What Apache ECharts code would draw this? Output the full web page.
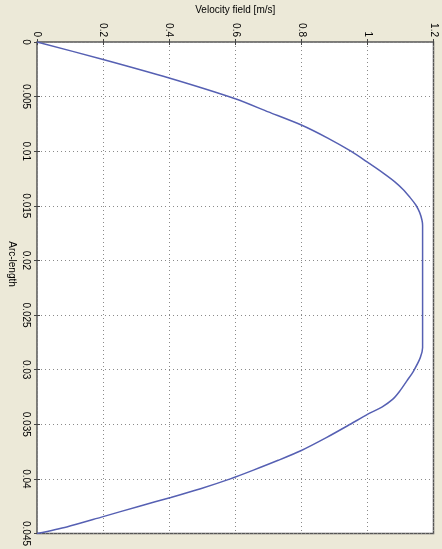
<!DOCTYPE html>
<html>
<head>
<meta charset="utf-8">
<script src="https://cdn.jsdelivr.net/npm/echarts@6/dist/echarts.min.js"></script>
<style>
html,body{margin:0;padding:0;background:#ECE9D8;}
#chart{width:442px;height:549px;}
</style>
</head>
<body>
<div id="chart"></div>
<script>
// Arc-length [m] (vertical axis) and velocity [m/s] (horizontal axis)
const arcLength = [0, 0.0016, 0.0033, 0.0052, 0.0064, 0.0076, 0.0088, 0.0100, 0.0110, 0.0120, 0.0128, 0.0135, 0.0142, 0.0149, 0.0156, 0.0163, 0.0168, 0.0280, 0.0289, 0.0301, 0.0310, 0.0320, 0.0327, 0.0334, 0.0341, 0.0350, 0.0362, 0.0374, 0.0383, 0.0392, 0.0400, 0.0409, 0.0417, 0.0425, 0.0435, 0.0444, 0.0450];
const velocity = [0, 0.2, 0.4, 0.6, 0.7, 0.8, 0.88, 0.95, 1.0, 1.048, 1.083, 1.108, 1.128, 1.146, 1.158, 1.165, 1.167, 1.167, 1.16, 1.14, 1.12, 1.097, 1.077, 1.045, 1.0, 0.948, 0.877, 0.8, 0.73, 0.655, 0.585, 0.495, 0.405, 0.31, 0.195, 0.09, 0];
const velocityTicks = [0, 0.2, 0.4, 0.6, 0.8, 1, 1.2];
const arcTicks = [0, 0.005, 0.01, 0.015, 0.02, 0.025, 0.03, 0.035, 0.04, 0.045];
const xTitle = 'Velocity field [m/s]';
const yTitle = 'Arc-length';

const FONT = 'Liberation Sans, Arial, sans-serif';
const fmt = v => String(parseFloat(Number(v).toFixed(4)));
const gridLine = {show: true, lineStyle: {color: '#8a8a8a', type: [1, 3], width: 1}};
const inTick = {show: true, inside: true, length: 3, lineStyle: {color: '#444'}};

const chart = echarts.init(document.getElementById('chart'), null, {renderer: 'canvas'});
chart.setOption({
  backgroundColor: '#ECE9D8',
  animation: false,
  grid: {left: 37, top: 37.5, right: 8.5, bottom: 15, show: true, backgroundColor: '#ffffff', borderColor: '#555', borderWidth: 1.5},
  xAxis: [
    {type: 'value', position: 'top', min: velocityTicks[0], max: velocityTicks[velocityTicks.length - 1], interval: 0.2,
     name: xTitle, nameLocation: 'middle', nameGap: 27,
     nameTextStyle: {fontFamily: FONT, fontSize: 10, color: '#000'},
     axisLine: {show: false}, axisTick: inTick, splitLine: gridLine,
     axisLabel: {rotate: -90, margin: 5, fontFamily: FONT, fontSize: 10, color: '#000', formatter: fmt}},
    {type: 'value', position: 'bottom', min: velocityTicks[0], max: velocityTicks[velocityTicks.length - 1], interval: 0.2,
     axisLine: {show: false}, axisTick: inTick, splitLine: {show: false}, axisLabel: {show: false}}
  ],
  yAxis: [
    {type: 'value', position: 'left', inverse: true, min: arcTicks[0], max: arcTicks[arcTicks.length - 1], interval: 0.005,
     axisLine: {show: false}, axisTick: inTick, splitLine: gridLine,
     axisLabel: {rotate: -90, margin: 6, fontFamily: FONT, fontSize: 10, color: '#000', formatter: fmt}},
    {type: 'value', position: 'right', inverse: true, min: arcTicks[0], max: arcTicks[arcTicks.length - 1], interval: 0.005,
     axisLine: {show: false}, axisTick: inTick, splitLine: {show: false}, axisLabel: {show: false}}
  ],
  graphic: [
    {type: 'text', x: 12, y: 264, rotation: -Math.PI / 2,
     style: {text: yTitle, font: '10px ' + FONT, fill: '#000', textAlign: 'center', textVerticalAlign: 'middle'}}
  ],
  series: [{
    type: 'line', xAxisIndex: 0, yAxisIndex: 0, showSymbol: false,
    smooth: 0.25,
    lineStyle: {color: '#5660b3', width: 1.5},
    data: arcLength.map((s, i) => [velocity[i], s])
  }]
});
</script>
</body>
</html>
